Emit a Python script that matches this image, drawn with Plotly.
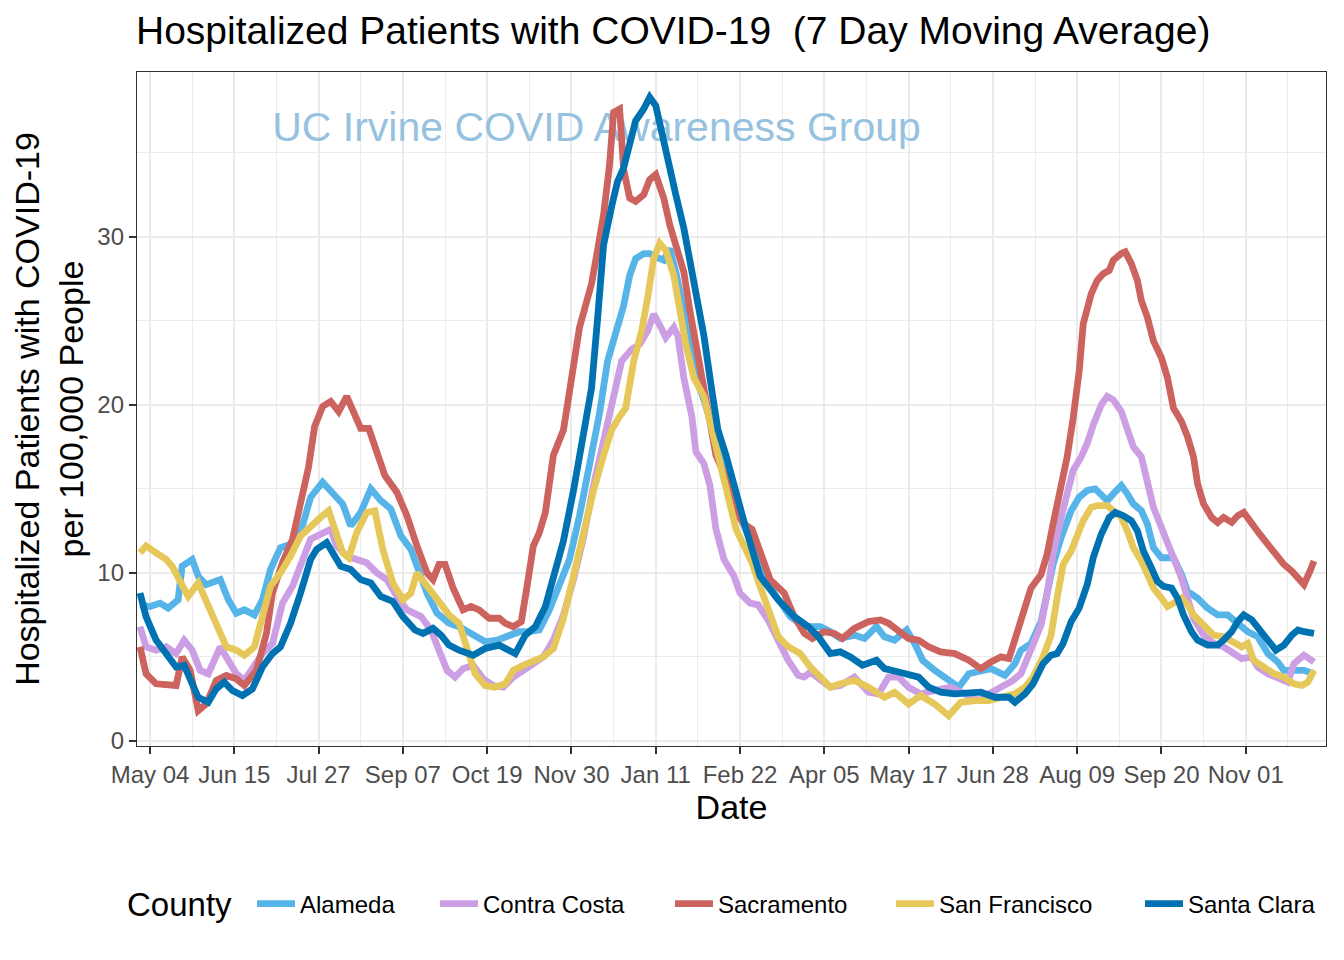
import pandas as pd
import plotly.graph_objects as go

BASE_DATE = "2020-05-04"

counties = ["Alameda", "Contra Costa", "Sacramento", "San Francisco", "Santa Clara"]
colors = ["#56B4E9", "#CC9EE3", "#CC635E", "#E6C75A", "#0072B2"]

# days since BASE_DATE, and 7-day average hospitalized patients per 100k
alameda_day = [-5, 0, 5, 9, 14, 16, 21, 24, 28, 35, 39, 43, 47, 52, 56, 60, 65, 70, 75, 80, 86, 91, 96, 100,
               105, 110, 115, 120, 125, 130, 133, 138, 143, 149, 154, 161, 167, 173, 179, 184, 189, 194, 199,
               204, 209, 214, 219, 224, 228, 232, 236, 239, 242, 246, 249, 252, 256, 259, 262, 266, 269, 272,
               276, 279, 282, 287, 292, 297, 302, 311, 319, 326, 334, 339, 344, 351, 356, 362, 366, 371, 377,
               381, 385, 391, 398, 403, 408, 414, 419, 426, 431, 434, 439, 444, 447, 450, 454, 459, 463, 467,
               471, 475, 477, 480, 484, 487, 490, 494, 497, 500, 504, 507, 510, 514, 517, 522, 527, 532, 537,
               542, 547, 552, 557, 562, 565, 570, 575, 580]
alameda_val = [8.1, 8.0, 8.2, 7.9, 8.4, 10.4, 10.8, 9.8, 9.3, 9.6, 8.4, 7.6, 7.8, 7.5, 8.4, 10.2, 11.5, 11.7,
               12.4, 14.5, 15.4, 14.8, 14.1, 12.8, 13.6, 15.0, 14.3, 13.8, 12.2, 11.4, 10.4, 8.8, 7.6, 7.0, 6.8,
               6.3, 5.9, 6.0, 6.3, 6.5, 6.5, 6.6, 7.8, 9.3, 10.8, 13.4, 16.5, 19.5, 22.6, 24.4, 25.9, 27.7,
               28.7, 29.0, 29.0, 28.8, 28.6, 29.3, 27.9, 25.6, 23.6, 21.6, 20.3, 19.0, 17.7, 15.9, 13.9, 12.4,
               11.1, 8.8, 7.4, 6.8, 6.8, 6.5, 6.1, 6.3, 6.1, 6.8, 6.2, 6.0, 6.6, 5.8, 4.8, 4.2, 3.6, 3.2, 4.0,
               4.2, 4.3, 3.9, 4.6, 5.4, 5.8, 7.1, 8.9, 10.5, 12.1, 13.7, 14.5, 14.9, 15.0, 14.5, 14.3, 14.7,
               15.2, 14.7, 14.1, 13.7, 12.9, 11.5, 10.9, 10.9, 10.9, 9.9, 8.9, 8.5, 7.9, 7.5, 7.5, 7.0, 6.5,
               6.2, 5.2, 4.7, 4.2, 4.2, 4.2, 4.0]

contra_costa_day = [-5, -2, 3, 8, 13, 17, 21, 25, 29, 32, 35, 40, 43, 47, 52, 56, 61, 66, 71, 76, 80, 85, 90,
                    93, 98, 103, 108, 113, 118, 123, 128, 135, 140, 144, 148, 152, 156, 161, 166, 171, 176,
                    181, 186, 191, 196, 201, 206, 211, 216, 221, 226, 231, 235, 240, 244, 248, 251, 255, 257,
                    261, 263, 266, 270, 272, 276, 279, 282, 286, 291, 294, 299, 303, 308, 313, 318, 323, 326,
                    329, 334, 339, 344, 351, 358, 363, 368, 373, 378, 384, 391, 399, 406, 413, 418, 424, 430,
                    434, 439, 444, 447, 450, 454, 457, 460, 464, 467, 470, 474, 477, 480, 484, 487, 490, 494,
                    497, 500, 504, 507, 510, 514, 517, 520, 525, 530, 535, 540, 544, 549, 552, 557, 562, 567,
                    570, 575, 580]
contra_costa_val = [6.8, 5.6, 5.4, 5.6, 5.2, 6.0, 5.4, 4.2, 4.0, 4.8, 5.6, 4.6, 4.0, 3.6, 4.4, 5.2, 5.8, 8.2,
                    9.2, 10.8, 12.0, 12.3, 12.6, 11.6, 11.0, 10.8, 10.6, 10.0, 9.6, 8.6, 7.8, 7.4, 6.6, 5.4,
                    4.2, 3.8, 4.3, 4.5, 3.7, 3.3, 3.2, 3.8, 4.2, 4.7, 5.0, 6.0, 7.5, 9.6, 12.1, 15.2, 17.7,
                    20.3, 22.6, 23.3, 23.6, 24.4, 25.4, 24.5, 24.0, 24.6, 24.1, 21.6, 19.3, 17.2, 16.5, 15.2,
                    12.6, 10.8, 9.8, 8.8, 8.2, 8.1, 7.2, 6.0, 4.8, 3.9, 3.8, 4.1, 3.6, 3.2, 3.3, 3.8, 2.9, 2.8,
                    3.8, 3.8, 3.2, 2.8, 3.0, 3.2, 2.8, 2.4, 2.8, 3.2, 3.6, 4.0, 5.4, 6.9, 8.7, 11.1, 13.3, 14.9,
                    16.1, 16.9, 17.7, 18.8, 20.0, 20.5, 20.3, 19.6, 18.5, 17.5, 16.9, 15.5, 13.9, 12.7, 11.9,
                    10.9, 9.7, 8.3, 7.3, 6.3, 5.8, 5.6, 5.2, 4.9, 5.0, 4.4, 4.0, 3.7, 3.5, 4.6, 5.1, 4.7]

sacramento_day = [-5, -2, 3, 8, 13, 16, 20, 24, 28, 33, 38, 43, 47, 53, 58, 61, 66, 71, 75, 79, 82, 86, 90, 94,
                  98, 101, 105, 109, 113, 117, 123, 128, 133, 138, 141, 144, 147, 151, 156, 160, 164, 169, 174,
                  177, 181, 185, 188, 191, 194, 197, 201, 206, 208, 211, 214, 217, 220, 223, 226, 229, 231, 234,
                  236, 239, 242, 246, 249, 252, 256, 259, 262, 266, 269, 272, 276, 279, 282, 286, 289, 292, 296,
                  300, 303, 309, 316, 321, 326, 330, 336, 341, 345, 351, 358, 364, 368, 373, 378, 383, 388, 394,
                  401, 408, 414, 419, 424, 428, 434, 439, 444, 447, 450, 454, 457, 460, 463, 465, 469, 472, 475,
                  478, 480, 484, 486, 489, 492, 494, 497, 500, 504, 507, 510, 514, 517, 520, 522, 525, 529, 532,
                  535, 539, 542, 545, 549, 553, 557, 561, 565, 569, 572, 575, 578, 580]
sacramento_val = [5.6, 4.0, 3.4, 3.4, 3.3, 5.0, 4.2, 1.8, 2.2, 3.6, 3.9, 3.7, 3.3, 4.2, 6.4, 8.8, 10.6, 12.0,
                  14.0, 16.3, 18.7, 19.9, 20.2, 19.6, 20.5, 19.7, 18.6, 18.6, 17.3, 15.8, 14.8, 13.4, 11.6,
                  10.0, 9.6, 10.5, 10.5, 9.1, 7.8, 8.0, 7.8, 7.3, 7.3, 7.0, 6.8, 7.1, 9.3, 11.6, 12.4, 13.6,
                  17.0, 18.5, 20.0, 22.1, 24.6, 25.9, 27.2, 29.2, 31.3, 34.3, 37.4, 37.6, 34.0, 32.3, 32.1,
                  32.5, 33.4, 33.7, 32.3, 30.7, 29.5, 27.9, 25.6, 23.6, 21.0, 19.0, 17.0, 15.9, 14.7, 13.6,
                  12.9, 12.6, 11.6, 9.6, 8.8, 7.4, 6.4, 6.1, 6.5, 6.4, 6.1, 6.7, 7.1, 7.2, 7.0, 6.6, 6.1, 6.0,
                  5.6, 5.3, 5.2, 4.8, 4.3, 4.7, 5.0, 4.9, 7.3, 9.1, 9.9, 11.1, 12.9, 15.1, 16.9, 19.2, 22.0,
                  24.8, 26.6, 27.4, 27.8, 28.0, 28.6, 29.0, 29.1, 28.4, 27.4, 26.2, 25.2, 23.8, 22.8, 21.6,
                  19.8, 19.0, 18.1, 16.9, 15.3, 14.1, 13.3, 13.0, 13.3, 13.0, 13.4, 13.6, 12.9, 12.3, 11.7,
                  11.1, 10.5, 10.1, 9.7, 9.3, 10.1, 10.7]

san_francisco_day = [-5, -2, 3, 8, 11, 15, 19, 24, 30, 35, 38, 43, 47, 52, 56, 60, 65, 70, 75, 80, 85, 89, 92,
                     96, 99, 103, 108, 112, 116, 121, 126, 130, 133, 138, 143, 149, 154, 158, 162, 167, 172,
                     177, 181, 186, 191, 196, 201, 206, 211, 216, 221, 226, 230, 234, 237, 241, 245, 248, 251,
                     254, 257, 261, 264, 267, 271, 276, 279, 282, 286, 289, 292, 296, 300, 304, 309, 313, 318,
                     324, 329, 334, 339, 344, 351, 358, 361, 366, 371, 378, 384, 391, 398, 404, 411, 418, 424,
                     431, 436, 440, 445, 449, 452, 455, 459, 462, 465, 469, 472, 477, 480, 484, 487, 490, 494,
                     497, 500, 504, 507, 510, 514, 517, 520, 525, 530, 535, 540, 544, 547, 550, 555, 560, 565,
                     570, 574, 577, 580]
san_francisco_val = [11.2, 11.6, 11.2, 10.8, 10.4, 9.4, 8.6, 9.4, 7.8, 6.4, 5.6, 5.4, 5.1, 5.6, 7.6, 9.2, 10.0,
                     11.0, 12.2, 12.8, 13.3, 13.7, 12.6, 11.2, 10.9, 12.4, 13.6, 13.7, 11.4, 9.4, 8.4, 8.8, 10.0,
                     9.2, 8.4, 7.5, 7.0, 5.5, 4.0, 3.3, 3.2, 3.4, 4.2, 4.5, 4.7, 5.0, 5.5, 7.3, 9.8, 12.4, 14.9,
                     17.0, 18.5, 19.3, 19.8, 22.6, 24.4, 26.4, 28.7, 29.6, 29.2, 27.7, 25.6, 23.6, 21.6, 20.5,
                     19.0, 17.5, 15.4, 14.2, 12.6, 11.6, 10.6, 9.2, 7.4, 6.2, 5.6, 5.2, 4.4, 3.8, 3.2, 3.4, 3.6,
                     3.2, 3.0, 2.6, 2.9, 2.2, 2.7, 2.2, 1.5, 2.3, 2.4, 2.4, 2.6, 2.8, 3.2, 3.8, 5.0, 6.3, 8.5,
                     10.5, 11.3, 12.1, 13.1, 13.9, 14.0, 14.0, 13.7, 13.3, 12.5, 11.5, 10.7, 9.9, 9.1, 8.5, 8.0,
                     8.2, 8.5, 8.1, 7.5, 6.9, 6.3, 6.2, 5.8, 5.6, 5.8, 4.8, 4.4, 4.0, 3.8, 3.4, 3.3, 3.5, 4.2]

santa_clara_day = [-5, -2, 3, 8, 13, 17, 20, 24, 29, 33, 37, 41, 46, 51, 56, 61, 65, 70, 75, 80, 83, 88, 92, 95,
                   100, 105, 110, 115, 121, 126, 132, 136, 141, 145, 149, 154, 161, 167, 174, 178, 182, 187, 192,
                   197, 201, 206, 211, 216, 220, 223, 226, 230, 233, 236, 239, 242, 246, 249, 252, 255, 259, 262,
                   266, 270, 273, 276, 280, 283, 287, 291, 294, 297, 300, 304, 313, 321, 328, 333, 339, 344, 349,
                   355, 362, 366, 373, 378, 383, 388, 394, 401, 408, 414, 421, 428, 431, 436, 440, 445, 449, 452,
                   455, 459, 463, 467, 470, 474, 478, 481, 485, 489, 492, 495, 499, 502, 505, 509, 512, 515, 519,
                   522, 527, 532, 535, 539, 542, 545, 549, 552, 557, 561, 565, 569, 572, 575, 580]
santa_clara_val = [8.8, 7.4, 6.0, 5.2, 4.4, 4.5, 3.6, 2.6, 2.3, 3.1, 3.5, 3.0, 2.7, 3.1, 4.4, 5.2, 5.6, 7.0, 8.8,
                   10.8, 11.4, 11.8, 11.0, 10.4, 10.2, 9.6, 9.4, 8.6, 8.3, 7.4, 6.6, 6.4, 6.7, 6.3, 5.7, 5.4, 5.1,
                   5.5, 5.7, 5.5, 5.2, 6.3, 6.8, 8.0, 9.8, 11.9, 14.9, 18.0, 21.0, 25.1, 29.5, 31.8, 33.3, 34.1,
                   35.6, 36.9, 37.6, 38.3, 37.8, 36.1, 34.1, 32.5, 30.5, 27.9, 25.6, 24.1, 20.8, 18.5, 17.0, 15.2,
                   13.6, 12.6, 11.4, 9.8, 8.4, 7.4, 6.8, 6.2, 5.2, 5.3, 5.0, 4.5, 4.8, 4.3, 4.1, 3.9, 3.8, 3.2,
                   2.9, 2.8, 2.8, 2.9, 2.6, 2.6, 2.3, 2.8, 3.4, 4.6, 5.1, 5.2, 5.8, 7.1, 7.9, 9.3, 10.9, 12.3,
                   13.3, 13.6, 13.4, 13.1, 12.5, 11.3, 10.3, 9.5, 9.2, 9.1, 8.5, 7.5, 6.5, 6.0, 5.7, 5.7, 6.0,
                   6.5, 7.1, 7.5, 7.2, 6.7, 6.0, 5.4, 5.7, 6.3, 6.6, 6.5, 6.4]

series_days = [alameda_day, contra_costa_day, sacramento_day, san_francisco_day, santa_clara_day]
series_vals = [alameda_val, contra_costa_val, sacramento_val, san_francisco_val, santa_clara_val]

y_ticks = [0, 10, 20, 30]
y_minor_ticks = [5, 15, 25, 35]
x_tick_start = "2020-05-04"
x_tick_step_days = 42
x_range = ["2020-04-27 12:00", "2021-12-11"]
y_range = [-0.3, 39.8]

title_text = "Hospitalized Patients with COVID-19  (7 Day Moving Average)"
y_title = "Hospitalized Patients with COVID-19<br>per 100,000 People"
x_title = "Date"
legend_title = "County"
watermark = "UC Irvine COVID Awareness Group"
watermark_pos = ("2020-12-12 12:00", 36.3)

# ---------------- layout constants (pixels) ----------------
W, H = 1344, 960
OFF = 8  # page body margin of the html page
PLOT_L, PLOT_R, PLOT_T, PLOT_B = 137, 1326, 72, 746   # plot panel in page pixels
FONT = "Liberation Sans, Arial, Helvetica, sans-serif"
legend_left_px = [244, 427, 662, 883, 1132]   # container px of each legend box
legend_mid_px = 896
legend_title_page = (125, 904)

base = pd.Timestamp(BASE_DATE)
fig = go.Figure()

# watermark drawn first so the lines are drawn over it
fig.add_trace(go.Scatter(
    x=[watermark_pos[0]], y=[watermark_pos[1]], mode="text", text=[watermark],
    textfont=dict(family=FONT, size=41, color="#97C2DF"), textposition="middle center",
    showlegend=False, hoverinfo="skip"))

legend_names = ["legend", "legend2", "legend3", "legend4", "legend5"]
for name, col, d, v, lg in zip(counties, colors, series_days, series_vals, legend_names):
    dates = base + pd.to_timedelta(d, unit="D")
    fig.add_trace(go.Scatter(
        x=dates, y=v, mode="lines", name=name, legend=lg,
        line=dict(color=col, width=6.8, shape="linear"),
    ))

legend_common = dict(orientation="h", xref="container", xanchor="left",
                     yref="container", y=1 - legend_mid_px / H, yanchor="middle",
                     font=dict(family=FONT, size=24, color="black"), itemwidth=38,
                     bgcolor="rgba(0,0,0,0)", borderwidth=0)
legends = {lg: dict(legend_common, x=legend_left_px[i] / W) for i, lg in enumerate(legend_names)}

pw, ph = PLOT_R - PLOT_L, PLOT_B - PLOT_T
day_ms = 86400000
fig.update_layout(
    width=W, height=H,
    paper_bgcolor="white", plot_bgcolor="white",
    margin=dict(l=PLOT_L - OFF, r=W - (PLOT_R - OFF), t=PLOT_T - OFF, b=H - (PLOT_B - OFF)),
    font=dict(family=FONT, color="black"),
    title=dict(text=title_text, x=128 / W, xanchor="left", xref="container",
               y=1 - 22 / H, yanchor="middle", yref="container",
               font=dict(family=FONT, size=39, color="black")),
    showlegend=True,
    annotations=[dict(text=legend_title, xref="paper", yref="paper",
                      x=(legend_title_page[0] - PLOT_L) / pw,
                      y=(PLOT_B - legend_title_page[1]) / ph,
                      xanchor="left", yanchor="middle", showarrow=False,
                      font=dict(family=FONT, size=33, color="black"))],
    **legends,
)

fig.update_xaxes(
    type="date", range=x_range, automargin=False,
    tick0=x_tick_start, dtick=x_tick_step_days * day_ms, tickformat="%b %d",
    ticks="outside", ticklen=7, tickwidth=1.5, tickcolor="#333333",
    tickfont=dict(size=24, color="#4D4D4D"),
    showgrid=True, gridcolor="#EBEBEB", gridwidth=1.8,
    minor=dict(tick0=x_tick_start, dtick=x_tick_step_days * day_ms / 2, showgrid=True,
               gridcolor="#EBEBEB", gridwidth=0.9),
    showline=True, mirror=True, linecolor="#333333", linewidth=1.3,
    zeroline=False,
    title=dict(text=x_title, font=dict(size=34, color="black"), standoff=6),
)
fig.update_yaxes(
    range=y_range, tickvals=y_ticks, automargin=False,
    ticks="outside", ticklen=7, tickwidth=1.5, tickcolor="#333333",
    tickfont=dict(size=24, color="#4D4D4D"),
    showgrid=True, gridcolor="#EBEBEB", gridwidth=1.8,
    minor=dict(tickvals=y_minor_ticks, showgrid=True, gridcolor="#EBEBEB", gridwidth=0.9),
    showline=True, mirror=True, linecolor="#333333", linewidth=1.3,
    zeroline=False,
    title=dict(text=y_title, font=dict(size=34, color="black"), standoff=8),
)

fig.write_html("out.html")
